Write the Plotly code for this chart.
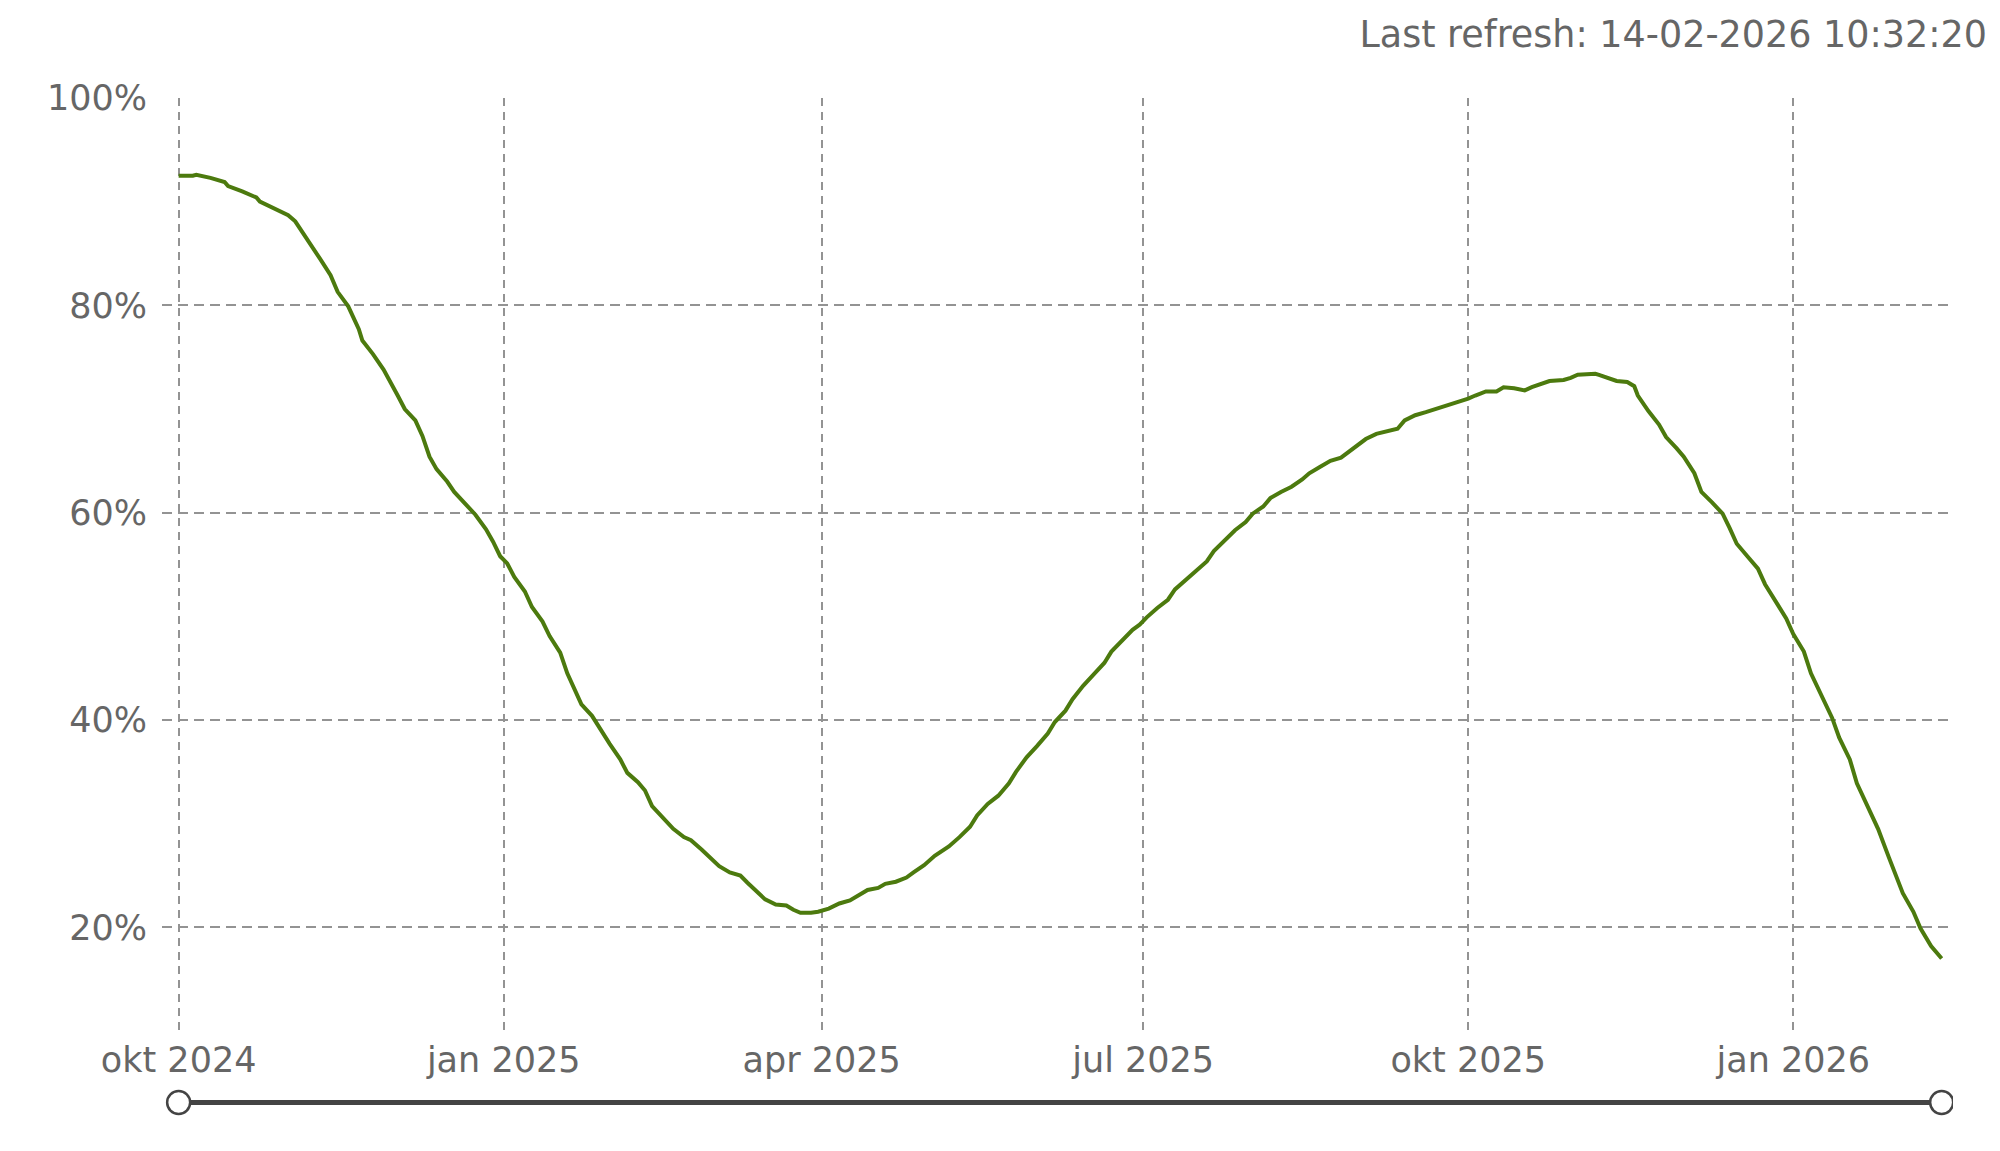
import plotly.graph_objects as go

# ---- data ----
dates = [
    "2024-10-01", "2024-10-05", "2024-10-06", "2024-10-10", "2024-10-14", "2024-10-15", "2024-10-19", "2024-10-23", "2024-10-24", "2024-10-28",
    "2024-11-01", "2024-11-03", "2024-11-06", "2024-11-10", "2024-11-13", "2024-11-15", "2024-11-18", "2024-11-21", "2024-11-22", "2024-11-25",
    "2024-11-28", "2024-11-30", "2024-12-02", "2024-12-04", "2024-12-07", "2024-12-09", "2024-12-11", "2024-12-13", "2024-12-16", "2024-12-18",
    "2024-12-21", "2024-12-24", "2024-12-27", "2024-12-29", "2024-12-31", "2025-01-02", "2025-01-04", "2025-01-07", "2025-01-09", "2025-01-12",
    "2025-01-14", "2025-01-17", "2025-01-19", "2025-01-21", "2025-01-23", "2025-01-26", "2025-01-28", "2025-01-31", "2025-02-03", "2025-02-05",
    "2025-02-08", "2025-02-10", "2025-02-12", "2025-02-15", "2025-02-18", "2025-02-21", "2025-02-23", "2025-02-26", "2025-03-01", "2025-03-03",
    "2025-03-06", "2025-03-09", "2025-03-11", "2025-03-14", "2025-03-16", "2025-03-19", "2025-03-22", "2025-03-24", "2025-03-26", "2025-03-29",
    "2025-03-31", "2025-04-03", "2025-04-06", "2025-04-09", "2025-04-11", "2025-04-14", "2025-04-17", "2025-04-19", "2025-04-22", "2025-04-25",
    "2025-04-27", "2025-04-30", "2025-05-03", "2025-05-06", "2025-05-07", "2025-05-10", "2025-05-13", "2025-05-15", "2025-05-18", "2025-05-21",
    "2025-05-24", "2025-05-26", "2025-05-29", "2025-06-01", "2025-06-04", "2025-06-06", "2025-06-09", "2025-06-11", "2025-06-14", "2025-06-17",
    "2025-06-20", "2025-06-22", "2025-06-25", "2025-06-28", "2025-06-30", "2025-07-02", "2025-07-05", "2025-07-08", "2025-07-10", "2025-07-13",
    "2025-07-16", "2025-07-19", "2025-07-21", "2025-07-24", "2025-07-27", "2025-07-30", "2025-08-01", "2025-08-04", "2025-08-06", "2025-08-09",
    "2025-08-12", "2025-08-15", "2025-08-17", "2025-08-20", "2025-08-23", "2025-08-26", "2025-08-28", "2025-08-31", "2025-09-02", "2025-09-05",
    "2025-09-08", "2025-09-11", "2025-09-13", "2025-09-16", "2025-09-19", "2025-09-22", "2025-09-24", "2025-09-27", "2025-09-30", "2025-10-01",
    "2025-10-03", "2025-10-06", "2025-10-09", "2025-10-11", "2025-10-14", "2025-10-17", "2025-10-19", "2025-10-22", "2025-10-24", "2025-10-28",
    "2025-10-30", "2025-11-01", "2025-11-04", "2025-11-06", "2025-11-07", "2025-11-10", "2025-11-12", "2025-11-15", "2025-11-17", "2025-11-18",
    "2025-11-21", "2025-11-24", "2025-11-26", "2025-11-29", "2025-12-01", "2025-12-04", "2025-12-06", "2025-12-09", "2025-12-12", "2025-12-14",
    "2025-12-16", "2025-12-19", "2025-12-22", "2025-12-24", "2025-12-27", "2025-12-30", "2026-01-01", "2026-01-04", "2026-01-06", "2026-01-09",
    "2026-01-12", "2026-01-14", "2026-01-17", "2026-01-19", "2026-01-22", "2026-01-25", "2026-01-28", "2026-01-30", "2026-02-01", "2026-02-04",
    "2026-02-06", "2026-02-09", "2026-02-12",
]

values = [
    92.5, 92.5, 92.6, 92.3, 91.9, 91.5, 91.0, 90.4, 90.0, 89.4,
    88.7, 88.1, 86.6, 84.5, 82.9, 81.3, 79.9, 77.7, 76.6, 75.3,
    73.8, 72.6, 71.3, 70.0, 68.9, 67.4, 65.4, 64.2, 63.0, 62.0,
    60.9, 59.8, 58.4, 57.2, 55.8, 55.1, 53.8, 52.4, 50.9, 49.5,
    48.1, 46.5, 44.5, 42.9, 41.5, 40.4, 39.3, 37.7, 36.2, 34.9,
    34.0, 33.2, 31.7, 30.6, 29.5, 28.7, 28.4, 27.5, 26.6, 25.9,
    25.3, 25.0, 24.3, 23.3, 22.7, 22.2, 22.1, 21.7, 21.4, 21.4,
    21.5, 21.8, 22.3, 22.6, 23.0, 23.6, 23.8, 24.2, 24.4, 24.8,
    25.3, 26.0, 26.9, 27.5, 27.8, 28.7, 29.7, 30.8, 31.9, 32.7,
    33.9, 35.0, 36.4, 37.5, 38.7, 39.8, 40.9, 42.0, 43.3, 44.4,
    45.5, 46.6, 47.7, 48.7, 49.2, 49.9, 50.8, 51.6, 52.6, 53.5,
    54.3, 55.3, 56.3, 57.3, 58.3, 59.1, 59.9, 60.6, 61.4, 62.0,
    62.5, 63.2, 63.8, 64.4, 65.0, 65.3, 65.8, 66.5, 67.1, 67.6,
    67.9, 68.1, 68.9, 69.4, 69.7, 70.0, 70.2, 70.5, 70.9, 71.0,
    71.3, 71.7, 71.7, 72.1, 72.0, 71.8, 72.1, 72.4, 72.7, 72.8,
    73.0, 73.3, 73.4, 73.4, 73.3, 72.9, 72.7, 72.6, 72.2, 71.3,
    69.8, 68.5, 67.3, 66.2, 65.4, 63.8, 62.0, 61.0, 59.9, 58.5,
    57.0, 55.8, 54.6, 53.1, 51.5, 49.8, 48.3, 46.6, 44.5, 42.3,
    40.2, 38.3, 36.2, 33.9, 31.7, 29.5, 26.8, 25.0, 23.3, 21.5,
    19.9, 18.2, 17.0,
]

x_tick_vals = ["2024-10-01", "2025-01-01", "2025-04-01", "2025-07-01", "2025-10-01", "2026-01-01"]
x_tick_text = ["okt 2024", "jan 2025", "apr 2025", "jul 2025", "okt 2025", "jan 2026"]
y_tick_vals = [20, 40, 60, 80, 100]
y_tick_text = ["20%", "40%", "60%", "80%", "100%"]

title_text = "Last refresh: 14-02-2026 10:32:20"

# ---- styling ----
FONT = "DejaVu Sans, Verdana, sans-serif"
TXT = "#666666"
GRID = "#939393"
LINE = "#4c7a0e"
SLIDER = "#444444"

W, H = 2000, 1151
M_L, M_R, M_T, M_B = 154, 55, 90, 128

fig = go.Figure()
fig.add_trace(go.Scatter(
    x=dates, y=values, mode="lines",
    line=dict(color=LINE, width=4),
    hoverinfo="x+y", showlegend=False,
))

# range-navigator style bar below the axis
slider_y = -0.0766
shapes = [
    dict(type="line", xref="x", yref="paper", x0=dates[0], x1=dates[-1],
         y0=slider_y, y1=slider_y, line=dict(color=SLIDER, width=5), layer="above"),
]
for d in (dates[0], dates[-1]):
    shapes.append(dict(
        type="circle", xref="x", yref="paper", xsizemode="pixel", ysizemode="pixel",
        xanchor=d, yanchor=slider_y, x0=-11.5, x1=11.5, y0=-11.5, y1=11.5,
        fillcolor="white", line=dict(color=SLIDER, width=2.5), layer="above",
    ))

fig.update_layout(
    width=W, height=H,
    margin=dict(l=M_L, r=M_R, t=M_T, b=M_B, pad=0),
    paper_bgcolor="white", plot_bgcolor="white",
    font=dict(family=FONT, size=35, color=TXT),
    title=dict(text=title_text, xref="container", yref="container",
               x=0.9895, xanchor="right", y=1 - 26 / H, yanchor="middle",
               font=dict(family=FONT, size=36.5, color=TXT)),
    shapes=shapes,
    showlegend=False,
)

fig.update_xaxes(
    type="date",
    range=["2024-09-26 07:00", "2026-02-15 05:00"],
    tickmode="array", tickvals=x_tick_vals, ticktext=x_tick_text,
    showgrid=True, gridcolor=GRID, gridwidth=1.5, griddash="8px,6px",
    showline=False, zeroline=False, ticks="",
    tickfont=dict(family=FONT, size=35, color=TXT),
    ticklabelstandoff=5,
)
fig.update_yaxes(
    range=[10, 100],
    tickmode="array", tickvals=y_tick_vals, ticktext=y_tick_text,
    showgrid=True, gridcolor=GRID, gridwidth=1.5, griddash="10px,6px",
    showline=False, zeroline=False, ticks="",
    tickfont=dict(family=FONT, size=35, color=TXT),
    ticklabelstandoff=14,
)

fig.write_html("out.html")
